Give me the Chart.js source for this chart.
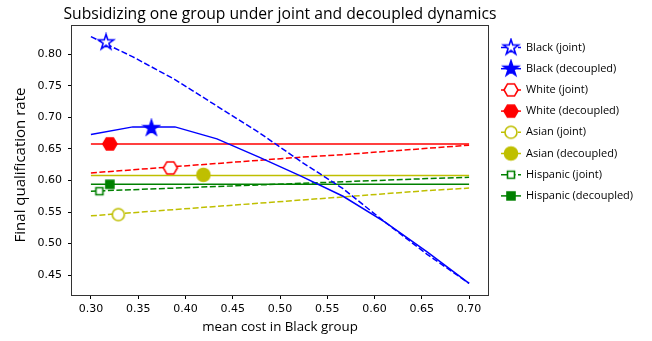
<!DOCTYPE html>
<html>
<head>
<meta charset="utf-8">
<script src="https://cdn.jsdelivr.net/npm/chart.js@4.4.1/dist/chart.umd.min.js"></script>
<style>
  html, body { margin: 0; padding: 0; background: #fff; }
  #wrap { width: 652px; height: 341px; }
</style>
</head>
<body>
<div id="wrap"><canvas id="chart" width="652" height="341"></canvas></div>
<script>
// mean cost in Black group (x)
const costs = [0.3, 0.3444, 0.3889, 0.4333, 0.4778, 0.5222, 0.5667, 0.6111, 0.6556, 0.7];

const blackJoint      = [0.828, 0.796, 0.760, 0.718, 0.676, 0.630, 0.587, 0.534, 0.483, 0.437];
const blackDecoupled  = [0.673, 0.685, 0.685, 0.666, 0.637, 0.607, 0.575, 0.534, 0.487, 0.437];
const whiteJoint      = [0.612, 0.617, 0.622, 0.627, 0.632, 0.637, 0.641, 0.646, 0.651, 0.656];
const whiteDecoupled  = [0.658, 0.658, 0.658, 0.658, 0.658, 0.658, 0.658, 0.658, 0.658, 0.658];
const asianJoint      = [0.544, 0.549, 0.554, 0.559, 0.564, 0.569, 0.574, 0.579, 0.584, 0.588];
const asianDecoupled  = [0.608, 0.608, 0.608, 0.608, 0.608, 0.608, 0.608, 0.608, 0.608, 0.608];
const hispJoint       = [0.583, 0.5855, 0.588, 0.5905, 0.593, 0.5955, 0.598, 0.6005, 0.603, 0.605];
const hispDecoupled   = [0.594, 0.594, 0.594, 0.594, 0.594, 0.594, 0.594, 0.594, 0.594, 0.594];

// one highlighted point per series
const markerX = [0.316, 0.364, 0.384, 0.320, 0.329, 0.419, 0.309, 0.320];
const markerY = [0.819, 0.683, 0.620, 0.658, 0.546, 0.609, 0.583, 0.594];

const seriesNames = ['Black (joint)', 'Black (decoupled)', 'White (joint)', 'White (decoupled)',
  'Asian (joint)', 'Asian (decoupled)', 'Hispanic (joint)', 'Hispanic (decoupled)'];
const seriesValues = [blackJoint, blackDecoupled, whiteJoint, whiteDecoupled,
  asianJoint, asianDecoupled, hispJoint, hispDecoupled];

const xTicks = [0.30, 0.35, 0.40, 0.45, 0.50, 0.55, 0.60, 0.65, 0.70];
const yTicks = [0.45, 0.50, 0.55, 0.60, 0.65, 0.70, 0.75, 0.80];

const colors = ['#0000ff', '#0000ff', '#ff0000', '#ff0000', '#bfbf00', '#bfbf00', '#008000', '#008000'];
const shapes = ['star', 'star', 'hex', 'hex', 'circle', 'circle', 'square', 'square'];

function makeMarker(shape, color, filled) {
  const size = 20;
  const c = document.createElement('canvas');
  c.width = size; c.height = size;
  const ctx = c.getContext('2d');
  const cx = size / 2, cy = size / 2;
  ctx.beginPath();
  if (shape === 'star') {
    const R = 8, r = R * 0.382;
    for (let i = 0; i < 10; i++) {
      const a = -Math.PI / 2 + i * Math.PI / 5;
      const rad = i % 2 === 0 ? R : r;
      ctx.lineTo(cx + rad * Math.cos(a), cy + rad * Math.sin(a));
    }
    ctx.closePath();
  } else if (shape === 'hex') {
    const R = 7;
    for (let i = 0; i < 6; i++) {
      const a = i * Math.PI / 3;
      ctx.lineTo(cx + R * Math.cos(a), cy + R * Math.sin(a));
    }
    ctx.closePath();
  } else if (shape === 'circle') {
    ctx.arc(cx, cy, filled ? 6.5 : 6, 0, Math.PI * 2);
  } else {
    const h = filled ? 4 : 3.5;
    ctx.rect(cx - h, cy - h, h * 2, h * 2);
  }
  ctx.fillStyle = filled ? color : '#ffffff';
  ctx.fill();
  ctx.lineWidth = 1.6;
  ctx.lineJoin = 'miter';
  ctx.strokeStyle = color;
  ctx.stroke();
  return c;
}

const markers = shapes.map((s, i) => makeMarker(s, colors[i], i % 2 === 1));
const dash = [6, 2.5];

const datasets = [];
seriesValues.forEach((vals, i) => {
  datasets.push({
    label: seriesNames[i],
    data: costs.map((x, j) => ({ x: x, y: vals[j] })),
    borderColor: colors[i],
    borderWidth: 1.5,
    borderDash: i % 2 === 0 ? dash : [],
    pointRadius: 0,
    pointHoverRadius: 0,
    showLine: true,
    fill: false,
    tension: 0,
    order: 2
  });
});
seriesValues.forEach((vals, i) => {
  datasets.push({
    label: seriesNames[i] + ' marker',
    data: [{ x: markerX[i], y: markerY[i] }],
    pointStyle: markers[i],
    pointRadius: 5,
    pointHoverRadius: 5,
    showLine: false,
    order: 1
  });
});

const textPlugin = {
  id: 'texts',
  afterDraw(chart) {
    const ctx = chart.ctx;
    const a = chart.chartArea;
    ctx.save();
    // frame
    ctx.strokeStyle = '#333';
    ctx.lineWidth = 1;
    ctx.strokeRect(Math.round(a.left) - 0.5, Math.round(a.top) + 0.5,
      Math.round(a.right - a.left) + 1, Math.round(a.bottom - a.top));

    ctx.fillStyle = '#000';
    ctx.textAlign = 'center';
    ctx.textBaseline = 'alphabetic';
    ctx.font = '15.7px "Open Sans"';
    ctx.fillText('Subsidizing one group under joint and decoupled dynamics', (a.left + a.right) / 2, 19);

    ctx.font = '13.3px "Open Sans"';
    ctx.fillText('mean cost in Black group', (a.left + a.right) / 2, 331);

    ctx.save();
    ctx.translate(25, 165);
    ctx.rotate(-Math.PI / 2);
    ctx.font = '15px "Open Sans"';
    ctx.fillText('Final qualification rate', 0, 0);
    ctx.restore();

    // legend
    ctx.font = '11px "Open Sans"';
    ctx.textAlign = 'left';
    ctx.textBaseline = 'middle';
    for (let i = 0; i < seriesNames.length; i++) {
      const y = 47.5 + i * 21.2;
      ctx.beginPath();
      ctx.setLineDash(i % 2 === 0 ? dash : []);
      ctx.strokeStyle = colors[i];
      ctx.lineWidth = 1.5;
      ctx.moveTo(501, y);
      ctx.lineTo(521, y);
      ctx.stroke();
      ctx.setLineDash([]);
      const m = markers[i];
      ctx.drawImage(m, 511 - m.width / 2, y - m.height / 2);
      ctx.fillStyle = '#000';
      ctx.fillText(seriesNames[i], 526, y);
    }
    ctx.restore();
  }
};

new Chart(document.getElementById('chart'), {
  type: 'scatter',
  data: { datasets },
  options: {
    responsive: false,
    animation: false,
    devicePixelRatio: 1,
    layout: { padding: { left: 0, right: 164, top: 25, bottom: 0 } },
    plugins: { legend: { display: false }, tooltip: { enabled: false }, title: { display: false } },
    scales: {
      x: {
        type: 'linear',
        min: 0.28,
        max: 0.72,
        afterBuildTicks: s => { s.ticks = xTicks.map(v => ({ value: v })); },
        afterFit: s => { s.height = 46; },
        border: { display: false },
        grid: { display: true, drawOnChartArea: false, drawTicks: true, tickLength: 4, tickColor: '#000', tickWidth: 1 },
        ticks: {
          font: { family: 'DejaVu Sans', size: 11 },
          color: '#000',
          padding: 4,
          maxRotation: 0,
          autoSkip: false,
          callback: v => v.toFixed(2)
        }
      },
      y: {
        type: 'linear',
        min: 0.4185,
        max: 0.8465,
        afterBuildTicks: s => { s.ticks = yTicks.map(v => ({ value: v })); },
        afterFit: s => { s.width = 72; },
        border: { display: false },
        grid: { display: true, drawOnChartArea: false, drawTicks: true, tickLength: 4, tickColor: '#000', tickWidth: 1 },
        ticks: {
          font: { family: 'DejaVu Sans', size: 11 },
          color: '#000',
          padding: 6,
          autoSkip: false,
          callback: v => v.toFixed(2)
        }
      }
    }
  },
  plugins: [textPlugin]
});
</script>
</body>
</html>
